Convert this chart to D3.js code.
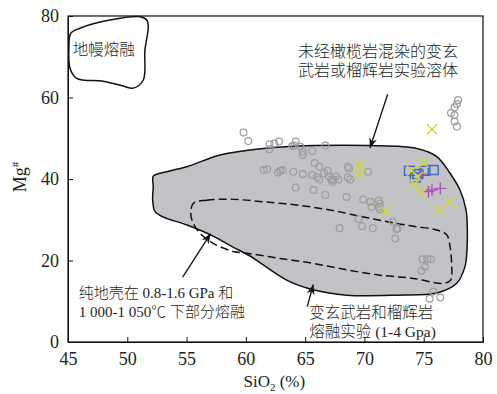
<!DOCTYPE html>
<html>
<head>
<meta charset="utf-8">
<script src="https://cdn.jsdelivr.net/npm/d3@7"></script>
<style>
  body { margin: 0; background: #fff; }
  svg text { fill: #231f20; }
</style>
</head>
<body>
<div id="chart"></div>
<script>
// ---- data (SiO2 %, Mg#) ----
const xTicks = [45, 50, 55, 60, 65, 70, 75, 80];
const yTicks = [0, 20, 40, 60, 80];

const grayCircles = [
  [59.8,51.4],[60.2,49.3],[62.0,48.5],[62.4,48.7],[62.8,49.2],[62.0,47.3],[63.9,48.1],[64.2,49.2],
  [64.1,48.2],[64.6,47.9],[64.8,46.7],[64.8,45.9],[65.6,46.9],[66.7,48.2],
  [61.5,42.2],[61.8,42.4],[62.7,41.6],[62.9,42.0],[63.1,42.2],[64.0,41.8],[64.8,41.2],[65.8,43.9],
  [66.2,43.0],[65.6,41.0],[66.0,40.4],[66.2,39.9],[66.6,41.4],[66.9,42.0],[67.0,40.7],[67.2,39.9],
  [67.4,39.8],[67.6,40.6],[67.3,39.3],[67.8,39.9],[68.6,43.0],[68.7,42.6],[68.6,40.4],[68.8,39.9],[70.3,41.8],
  [64.2,37.9],[65.7,37.3],[66.7,36.1],[68.5,35.6],[69.9,35.0],[70.5,34.4],[71.2,34.7],[71.3,34.0],
  [70.6,33.1],[71.2,33.1],[71.3,32.5],
  [69.5,30.2],[69.8,28.4],[70.7,27.9],[67.9,27.9],[72.4,29.5],[72.8,27.9],[72.7,27.7],[72.6,25.4],
  [74.9,20.3],[75.3,20.3],[75.6,20.3],[75.1,18.4],[74.8,17.5],[75.8,12.4],[75.5,10.6],[76.4,10.9],
  [77.9,59.4],[77.8,58.4],[77.6,57.6],[77.3,56.2],[77.6,55.7],[77.6,54.1],[77.8,52.9]
];

const yellowCrosses = [
  [69.6,43.3],[69.6,41.3],[75.7,52.2],[71.8,32.1],[75.0,44.0],[74.0,42.0],
  [74.5,40.5],[74.2,38.7],[74.8,36.6],[76.3,32.4],[77.2,34.4]
];

const blueSquares = [[73.8,42.0],[74.5,41.2],[75.1,42.0],[75.8,42.2],[74.3,40.4]];

const purplePluses = [[74.8,41.2],[75.4,36.9],[75.7,37.3],[76.4,37.7]];

const mantleOutline = [
  [45.23,75.75],[46.01,77.0],[48.54,79.0],[51.07,79.8],[51.64,79.0],[51.77,77.4],[51.49,71.7],
  [51.35,64.3],[50.51,62.3],[49.66,62.8],[47.98,64.0],[45.73,64.7],[45.17,67.2],[45.08,72.5]
];

const basaltField = [
  [52.19,40.7],[52.76,41.4],[55.01,43.0],[57.82,45.9],[61.47,47.5],[65.69,48.2],[70.47,48.2],
  [74.41,47.5],[76.10,45.5],[77.22,41.4],[78.06,37.3],[78.57,32.4],[78.68,27.5],[78.65,22.6],
  [78.48,18.5],[77.78,14.4],[76.10,12.0],[72.72,11.5],[68.51,11.5],[65.69,12.8],[63.44,15.2],
  [61.47,18.9],[60.35,21.1],[58.92,23.3],[57.23,26.0],[55.04,28.7],[53.01,30.7],[52.34,32.0],
  [52.14,34.8],[52.19,38.1]
];

const crustField = [
  [55.57,34.0],[56.70,34.8],[58.94,35.0],[61.47,34.4],[64.29,33.6],[67.10,32.4],[69.91,30.7],
  [72.72,29.1],[74.41,28.3],[76.10,27.5],[76.94,26.3],[77.22,23.4],[77.36,18.5],[77.28,15.2],
  [76.65,14.4],[74.12,15.6],[71.31,16.4],[68.51,17.7],[65.69,19.3],[62.88,20.5],[60.07,21.8],
  [58.94,22.2],[57.25,24.2],[56.13,26.7],[55.57,29.1],[55.35,31.6]
];

// ---- layout ----
const margin = { top: 16, right: 14, bottom: 52, left: 68 };
const W = 497, H = 394;
const width = W - margin.left - margin.right;
const height = H - margin.top - margin.bottom;

const svg = d3.select("#chart").append("svg")
  .attr("width", W)
  .attr("height", H);

const defs = svg.append("defs");
defs.append("marker")
  .attr("id", "arrow")
  .attr("viewBox", "0 0 10 10")
  .attr("refX", 10)
  .attr("refY", 5)
  .attr("markerWidth", 10)
  .attr("markerHeight", 10)
  .attr("markerUnits", "userSpaceOnUse")
  .attr("orient", "auto")
  .append("path")
  .attr("d", "M0,1 L10,5 L0,9 L3,5 Z")
  .attr("fill", "#111");

const g = svg.append("g")
  .attr("transform", `translate(${margin.left},${margin.top})`);

const x = d3.scaleLinear().domain([45, 80]).range([0, width]);
const y = d3.scaleLinear().domain([0, 80]).range([height, 0]);

const serif = "'Liberation Serif', 'Times New Roman', serif";
const cjk = "'Liberation Serif', 'Noto Sans CJK SC', serif";

const closedLine = d3.line()
  .x(d => x(d[0]))
  .y(d => y(d[1]))
  .curve(d3.curveCatmullRomClosed.alpha(0.5));

// fields
g.append("path")
  .attr("d", closedLine(basaltField))
  .attr("fill", "#c2c3c7")
  .attr("stroke", "#111")
  .attr("stroke-width", 1.5);

g.append("path")
  .attr("d", closedLine(crustField))
  .attr("fill", "none")
  .attr("stroke", "#111")
  .attr("stroke-width", 1.5)
  .attr("stroke-dasharray", "8,4");

g.append("path")
  .attr("d", closedLine(mantleOutline))
  .attr("fill", "none")
  .attr("stroke", "#111")
  .attr("stroke-width", 1.5);

// gray circles
g.append("g").selectAll("circle")
  .data(grayCircles)
  .join("circle")
  .attr("cx", d => x(d[0]))
  .attr("cy", d => y(d[1]))
  .attr("r", 3.4)
  .attr("fill", "none")
  .attr("stroke", "#9d9d9f")
  .attr("stroke-width", 1.2);

// blue squares
g.append("g").selectAll("rect")
  .data(blueSquares)
  .join("rect")
  .attr("x", d => x(d[0]) - 5)
  .attr("y", d => y(d[1]) - 4.5)
  .attr("width", 10)
  .attr("height", 9)
  .attr("fill", "none")
  .attr("stroke", "#3a6cc0")
  .attr("stroke-width", 1.4);

// purple pluses
g.append("g").selectAll("path")
  .data(purplePluses)
  .join("path")
  .attr("d", d => {
    const cx = x(d[0]), cy = y(d[1]), s = 6;
    return `M${cx - s},${cy}H${cx + s}M${cx},${cy - s}V${cy + s}`;
  })
  .attr("stroke", "#a656b4")
  .attr("stroke-width", 1.4);

// yellow crosses
g.append("g").selectAll("path")
  .data(yellowCrosses)
  .join("path")
  .attr("d", d => {
    const cx = x(d[0]), cy = y(d[1]), s = 5;
    return `M${cx - s},${cy - s}L${cx + s},${cy + s}M${cx - s},${cy + s}L${cx + s},${cy - s}`;
  })
  .attr("stroke", "#d6d636")
  .attr("stroke-width", 1.4);

// axes (ticks point inward)
g.append("g")
  .attr("transform", `translate(0,${height})`)
  .call(d3.axisBottom(x).tickValues(xTicks).tickSizeInner(-5).tickSizeOuter(0).tickPadding(10))
  .call(a => a.selectAll("text").style("font-family", serif).style("font-size", "18px").attr("fill", "#231f20"))
  .call(a => a.selectAll("line").attr("stroke", "#111"))
  .call(a => a.select(".domain").attr("stroke", "#111"));

g.append("g")
  .call(d3.axisLeft(y).tickValues(yTicks).tickSizeInner(-5).tickSizeOuter(0).tickPadding(9))
  .call(a => a.selectAll("text").style("font-family", serif).style("font-size", "18px").attr("fill", "#231f20"))
  .call(a => a.selectAll("line").attr("stroke", "#111"))
  .call(a => a.select(".domain").attr("stroke", "#111"));

// frame
g.append("rect")
  .attr("width", width)
  .attr("height", height)
  .attr("fill", "none")
  .attr("stroke", "#111")
  .attr("stroke-width", 1.2);

// arrows
const arrows = [
  [[71.96, 60.8], [70.47, 47.6]],
  [[54.67, 15.9], [57.03, 26.6]],
  [[65.18, 8.7], [65.69, 14.1]]
];
g.append("g").selectAll("line")
  .data(arrows)
  .join("line")
  .attr("x1", d => x(d[0][0]))
  .attr("y1", d => y(d[0][1]))
  .attr("x2", d => x(d[1][0]))
  .attr("y2", d => y(d[1][1]))
  .attr("stroke", "#111")
  .attr("stroke-width", 1.3)
  .attr("marker-end", "url(#arrow)");

// annotations
function label(lines, sx, sy, dy, size) {
  const t = g.append("text")
    .style("font-family", cjk)
    .style("font-size", size + "px")
    .style("font-weight", 300);
  lines.forEach((s, i) => {
    t.append("tspan").attr("x", x(sx)).attr("y", y(sy) + i * dy).text(s);
  });
}
label(["地幔熔融"], 45.4, 70.4, 0, 15.5);
label(["未经橄榄岩混染的变玄", "武岩或榴辉岩实验溶体"], 64.4, 70.0, 19.5, 16);
label(["纯地壳在 0.8-1.6 GPa 和", "1 000-1 050℃ 下部分熔融"], 45.9, 10.7, 18.5, 15);
label(["变玄武岩和榴辉岩", "熔融实验 (1-4 Gpa)"], 65.35, 5.9, 18.7, 15.5);

// axis titles
const xt = svg.append("text")
  .attr("x", margin.left + x(62.4))
  .attr("y", 387)
  .attr("text-anchor", "middle")
  .style("font-family", serif)
  .style("font-size", "17px");
xt.append("tspan").text("SiO");
xt.append("tspan").attr("dy", 4).style("font-size", "11px").text("2");
xt.append("tspan").attr("dy", -4).text(" (%)");

const yt = svg.append("text")
  .attr("transform", `translate(26,${margin.top + y(40.5)}) rotate(-90)`)
  .attr("text-anchor", "middle")
  .style("font-family", serif)
  .style("font-size", "18px");
yt.append("tspan").text("Mg");
yt.append("tspan").attr("dy", -7).style("font-size", "11px").text("#");
</script>
</body>
</html>
